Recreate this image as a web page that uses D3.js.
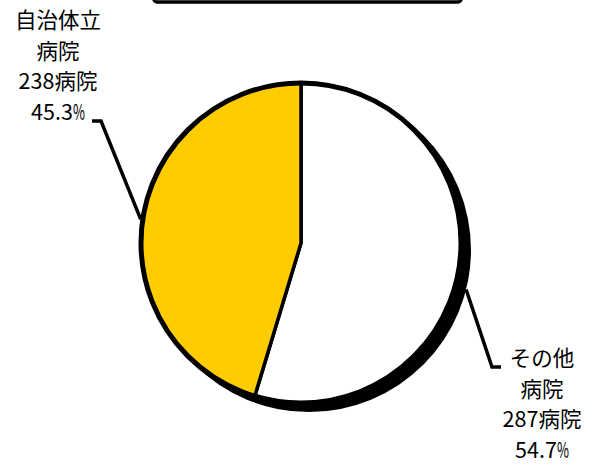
<!DOCTYPE html>
<html><head><meta charset="utf-8">
<script src="https://cdn.jsdelivr.net/npm/d3@7"></script>
<style>body{margin:0;background:#fff}svg{display:block}</style>
</head><body>
<script>
const categories = ["その他病院", "自治体立病院"];
const counts = [287, 238];
const countLabels = ["287病院", "238病院"];
const percentLabels = ["54.7%", "45.3%"];
const labelLines = [["その他", "病院"], ["自治体立", "病院"]];
const colors = ["#FFFFFF", "#FFCC00"];

const W = 594, H = 466;
const cx = 301, cy = 243, R = 160;
const svg = d3.select("body").append("svg").attr("width", W).attr("height", H);

// title box (bottom edge only visible)
svg.append("rect").attr("x", 154).attr("y", -30).attr("width", 307).attr("height", 32)
  .attr("rx", 3).attr("fill", "#fff").attr("stroke", "#000").attr("stroke-width", 3.5);

const pie = d3.pie().sort(null).value(d => d)(counts);
const arc = d3.arc().innerRadius(0).outerRadius(R);

// shadow
svg.append("circle").attr("cx", cx + 8).attr("cy", cy + 7).attr("r", R + 2).attr("fill", "#000");

const g = svg.append("g").attr("transform", `translate(${cx},${cy})`);
g.selectAll("path").data(pie).join("path")
  .attr("d", arc).attr("fill", (d, i) => colors[i])
  .attr("stroke", "#000").attr("stroke-width", 3.5).attr("stroke-linejoin", "round");
g.append("circle").attr("r", R).attr("fill", "none").attr("stroke", "#000").attr("stroke-width", 5);

const font = "'Noto Sans CJK JP', 'Noto Sans', sans-serif";
// labels
const labelPos = [{x: 542, y: 366}, {x: 58, y: 28}];
const lh = 30.7;
labelPos.forEach((p, i) => {
  const lines = [...labelLines[i], countLabels[i]];
  lines.forEach((s, k) => {
    svg.append("text").attr("font-family", font).attr("font-size", 21.5)
      .attr("text-anchor", "middle").attr("x", p.x).attr("y", p.y + k * lh).text(s);
  });
  // percent line: numeric part + narrow percent sign
  const pct = percentLabels[i];
  const t = svg.append("text").attr("font-family", font).attr("font-size", 21.5)
    .attr("text-anchor", "middle").attr("x", p.x).attr("y", p.y + lines.length * lh);
  t.append("tspan").text(pct.slice(0, -1));
  t.append("tspan").attr("textLength", 12).attr("lengthAdjust", "spacingAndGlyphs").text("%");
});

// leader lines
const mid = d => (d.startAngle + d.endAngle) / 2;
const ptOn = (a, r, ox = 0, oy = 0) => [cx + ox + r * Math.sin(a), cy + oy - r * Math.cos(a)];
const leaders = [
  [ptOn(mid(pie[0]) + 0.1, R + 2, 8, 7), [492, 367], [501, 367]],
  [ptOn(mid(pie[1]), R + 2), [101, 121], [92, 121]]
];
svg.selectAll("path.leader").data(leaders).join("path").attr("class", "leader")
  .attr("d", d => d3.line()(d)).attr("fill", "none").attr("stroke", "#000").attr("stroke-width", 3.5);
</script>
</body></html>
